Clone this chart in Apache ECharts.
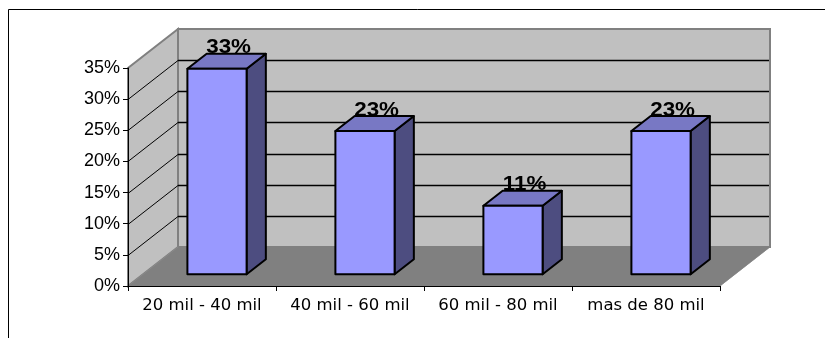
<!DOCTYPE html>
<html>
<head>
<meta charset="utf-8">
<script src="https://cdn.jsdelivr.net/npm/echarts@6/dist/echarts.min.js"></script>
<style>
  html, body { margin: 0; padding: 0; background: #ffffff; }
  #chart { width: 825px; height: 338px; }
</style>
</head>
<body>
<div id="chart"></div>
<script>
// Income brackets and their share of respondents (percent)
const categories = ['20 mil - 40 mil', '40 mil - 60 mil', '60 mil - 80 mil', 'mas de 80 mil'];
const shares = [33, 23, 11, 23];
// Value axis ticks (percent)
const yTicks = [0, 5, 10, 15, 20, 25, 30, 35];

// Pseudo-3D depth of the plot box, in pixels
const DEPTH_X = 50;
const DEPTH_Y = -39;
// Bars sit between these fractions of the depth
const BAR_F0 = 0.3;
const BAR_F1 = 0.685;
const BAR_HALF = 0.2; // half bar width as a fraction of the category band

const chart = echarts.init(document.getElementById('chart'), null, { renderer: 'canvas' });

function renderWalls(params, api) {
  const cs = params.coordSys;
  const x0 = cs.x, x1 = cs.x + cs.width;
  const yTop = cs.y, y0 = cs.y + cs.height;
  const dx = DEPTH_X, dy = DEPTH_Y;
  const floorPts = [[x0, y0], [x1, y0], [x1 + dx, y0 + dy], [x0 + dx, y0 + dy]];
  const children = [];
  // floor
  children.push({
    type: 'polygon',
    shape: { points: floorPts },
    style: { fill: '#808080', stroke: '#9a9a9a', lineWidth: 1 }
  });
  // back wall
  children.push({
    type: 'rect',
    shape: { x: x0 + dx, y: yTop + dy, width: cs.width, height: cs.height },
    style: { fill: '#C0C0C0', stroke: '#808080', lineWidth: 2 }
  });
  // redraw floor over the wall's lower border
  children.push({
    type: 'polygon',
    shape: { points: floorPts },
    style: { fill: '#808080' }
  });
  // left side wall
  children.push({
    type: 'polygon',
    shape: { points: [[x0, y0], [x0, yTop], [x0 + dx, yTop + dy], [x0 + dx, y0 + dy]] },
    style: { fill: '#C0C0C0', stroke: '#808080', lineWidth: 2 }
  });
  // gridlines on the side wall and the back wall
  yTicks.forEach(function (v) {
    if (v === yTicks[0] || v === yTicks[yTicks.length - 1]) return;
    const y = Math.round(api.coord([0, v])[1]) + 0.5;
    children.push({
      type: 'line',
      shape: { x1: x0, y1: y, x2: x0 + dx, y2: y + dy },
      style: { stroke: '#000000', lineWidth: 1 }
    });
    children.push({
      type: 'line',
      shape: { x1: x0 + dx, y1: y + dy, x2: x1 + dx - 1, y2: y + dy },
      style: { stroke: '#000000', lineWidth: 1.3 }
    });
  });
  // floor/side wall seam
  children.push({
    type: 'line',
    shape: { x1: x0, y1: y0, x2: x0 + dx, y2: y0 + dy },
    style: { stroke: '#8a8a8a', lineWidth: 1 }
  });
  return { type: 'group', children: children };
}

function renderBar(params, api) {
  const idx = api.value(0);
  const val = api.value(1);
  const top = api.coord([idx, val]);
  const bot = api.coord([idx, 0]);
  const band = params.coordSys.width / categories.length;
  const hw = band * BAR_HALF;
  const cx = top[0];
  const dx = DEPTH_X, dy = DEPTH_Y;

  const L0 = cx - hw + BAR_F0 * dx, R0 = cx + hw + BAR_F0 * dx;
  const L1 = cx - hw + BAR_F1 * dx, R1 = cx + hw + BAR_F1 * dx;
  const T0 = top[1] + BAR_F0 * dy, B0 = bot[1] + BAR_F0 * dy;
  const T1 = top[1] + BAR_F1 * dy, B1 = bot[1] + BAR_F1 * dy;

  const edge = { stroke: '#000000', lineWidth: 2, lineJoin: 'round' };
  return {
    type: 'group',
    children: [
      {
        type: 'polygon',
        shape: { points: [[R0, T0], [R1, T1], [R1, B1], [R0, B0]] },
        style: Object.assign({ fill: '#4D4D80' }, edge)
      },
      {
        type: 'polygon',
        shape: { points: [[L0, T0], [R0, T0], [R1, T1], [L1, T1]] },
        style: Object.assign({ fill: '#7878C4' }, edge)
      },
      {
        type: 'rect',
        shape: { x: L0, y: T0, width: R0 - L0, height: B0 - T0 },
        style: Object.assign({ fill: '#9999FF' }, edge)
      },
      {
        type: 'text',
        x: cx + (BAR_F0 + BAR_F1) / 2 * dx + 2,
        y: T1 + 4,
        scaleX: 1.12,
        style: {
          text: val + '%',
          font: 'bold 20px "Liberation Sans", Arial, sans-serif',
          fill: '#000000',
          align: 'center',
          verticalAlign: 'bottom'
        }
      }
    ]
  };
}

const option = {
  animation: false,
  backgroundColor: '#ffffff',
  graphic: [
    {
      type: 'rect',
      silent: true,
      shape: { x: 8.5, y: 9.5, width: 900, height: 400 },
      style: { fill: 'none', stroke: '#000000', lineWidth: 1 }
    }
  ],
  grid: { left: 128, right: 105, top: 68, bottom: 52, containLabel: false },
  xAxis: {
    type: 'category',
    data: categories,
    boundaryGap: true,
    z: 10,
    axisLine: { show: true, lineStyle: { color: '#000000', width: 1 } },
    axisTick: { show: true, length: 5, alignWithLabel: false, interval: 0, lineStyle: { color: '#000000' } },
    axisLabel: {
      interval: 0,
      hideOverlap: false,
      margin: 11,
      color: '#000000',
      fontFamily: '"DejaVu Sans", sans-serif',
      fontSize: 16.5
    },
    splitLine: { show: false }
  },
  yAxis: {
    type: 'value',
    min: yTicks[0],
    max: yTicks[yTicks.length - 1],
    interval: 5,
    z: 10,
    axisLine: { show: true, lineStyle: { color: '#000000', width: 1 } },
    axisTick: { show: true, length: 5, lineStyle: { color: '#000000' } },
    axisLabel: {
      margin: 8,
      color: '#000000',
      fontFamily: '"Liberation Sans", Arial, sans-serif',
      fontSize: 18,
      formatter: '{value}%'
    },
    splitLine: { show: false }
  },
  series: [
    {
      type: 'custom',
      z: 1,
      silent: true,
      clip: false,
      renderItem: renderWalls,
      data: [[0, 0]]
    },
    {
      type: 'custom',
      z: 3,
      clip: false,
      renderItem: renderBar,
      data: shares.map(function (v, i) { return [i, v]; })
    }
  ]
};

chart.setOption(option);
</script>
</body>
</html>
